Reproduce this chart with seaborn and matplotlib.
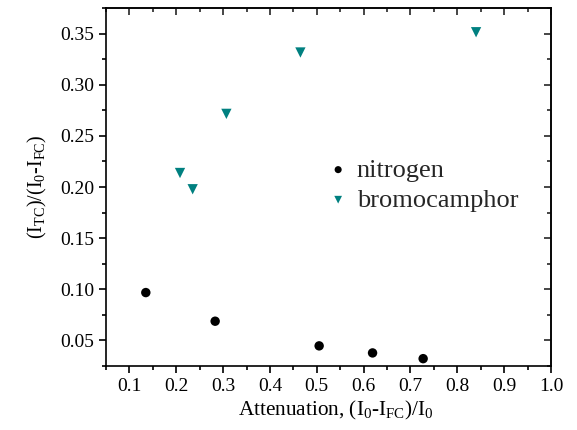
import matplotlib
matplotlib.use("Agg")
import matplotlib.pyplot as plt
from matplotlib.ticker import MultipleLocator, FormatStrFormatter
import seaborn as sns
import pandas as pd

# Data
nitrogen_x = [0.135, 0.283, 0.505, 0.619, 0.727]
nitrogen_y = [0.0968, 0.0688, 0.0447, 0.0378, 0.0322]
bromo_x = [0.208, 0.235, 0.307, 0.465, 0.840]
bromo_y = [0.2137, 0.1978, 0.2715, 0.3315, 0.3513]
series_names = ["nitrogen", "bromocamphor"]
colors = {"nitrogen": "#000000", "bromocamphor": "#008080"}
markers = {"nitrogen": "o", "bromocamphor": "v"}

df = pd.DataFrame({
    "x": nitrogen_x + bromo_x,
    "y": nitrogen_y + bromo_y,
    "series": [series_names[0]] * len(nitrogen_x) + [series_names[1]] * len(bromo_x),
})

sns.set_theme(style="ticks")
plt.rcParams["font.family"] = ["Liberation Serif", "DejaVu Serif"]
plt.rcParams["mathtext.fontset"] = "custom"
plt.rcParams["mathtext.rm"] = "Liberation Serif"
plt.rcParams["mathtext.it"] = "Liberation Serif"
plt.rcParams["mathtext.default"] = "regular"

fig = plt.figure(figsize=(5.77, 4.30), dpi=100)
ax = fig.add_axes([0.1837, 0.1488, 0.955 - 0.1837, 0.9814 - 0.1488])

for name in series_names:
    sub = df[df["series"] == name]
    sns.scatterplot(data=sub, x="x", y="y", ax=ax, color=colors[name],
                    marker=markers[name], s=46 if name == "nitrogen" else 55,
                    edgecolor="none", linewidth=0, label=name)

ax.set_xlim(0.05, 1.0)
ax.set_ylim(0.025, 0.375)
ax.xaxis.set_major_locator(MultipleLocator(0.1))
ax.xaxis.set_minor_locator(MultipleLocator(0.05))
ax.yaxis.set_major_locator(MultipleLocator(0.05))
ax.yaxis.set_minor_locator(MultipleLocator(0.025))
ax.xaxis.set_major_formatter(FormatStrFormatter("%.1f"))
ax.yaxis.set_major_formatter(FormatStrFormatter("%.2f"))

for sp in ax.spines.values():
    sp.set_linewidth(1.2)
    sp.set_color("black")

ax.tick_params(which="both", direction="out", width=1.2, colors="black",
               labelsize=14, top=False, right=False)
ax.tick_params(which="major", length=5)
ax.tick_params(which="minor", length=3)

secx = ax.secondary_xaxis("top")
secx.xaxis.set_major_locator(MultipleLocator(0.1))
secx.xaxis.set_minor_locator(MultipleLocator(0.05))
secx.tick_params(which="both", direction="in", width=1.2, labeltop=False)
secx.tick_params(which="major", length=5)
secx.tick_params(which="minor", length=3)
secx.spines["top"].set_linewidth(1.2)

secy = ax.secondary_yaxis("right")
secy.yaxis.set_major_locator(MultipleLocator(0.05))
secy.yaxis.set_minor_locator(MultipleLocator(0.025))
secy.tick_params(which="both", direction="in", width=1.2, labelright=False)
secy.tick_params(which="major", length=5)
secy.tick_params(which="minor", length=3)
secy.spines["right"].set_linewidth(1.2)

ax.set_xlabel("Attenuation, (I$_0$-I$_{FC}$)/I$_0$", fontsize=15.3, labelpad=3, color="black")
ax.xaxis.label.set_x(0.517)
ax.set_ylabel("(I$_{TC}$)/(I$_0$-I$_{FC}$)", fontsize=14.5, labelpad=8, color="black")

ax.legend(loc="center left", bbox_to_anchor=(0.492, 0.506), frameon=False,
          fontsize=19, handlelength=1.0, handletextpad=0.2, borderpad=0,
          borderaxespad=0, labelspacing=0.25, markerscale=0.75)

fig.savefig("out.png", dpi=100)
